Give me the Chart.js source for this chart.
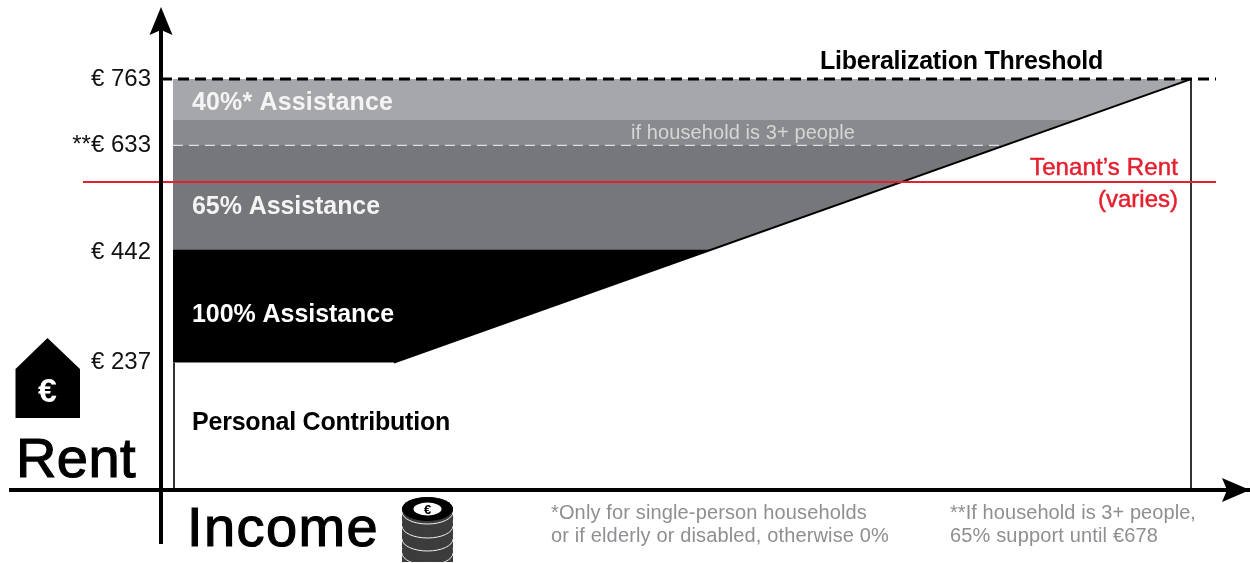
<!DOCTYPE html>
<html>
<head>
  <meta charset="UTF-8">
  <title>Rent Assistance</title>
  <script src="https://cdn.jsdelivr.net/npm/chart.js"></script>
  <style>
    html, body { margin: 0; padding: 0; background: #fff; }
    canvas { display: block; }
  </style>
</head>
<body>
  <canvas id="rentChart" width="1250" height="563"></canvas>
  <script>
    // rent in euro, income has no printed unit so it just runs from the rent axis
    const rentTicks = [237, 442, 640, 763];
    const rentTickLabels = ['€ 237', '€ 442', '**€ 633', '€ 763'];

    const bandIncome = [12, 1030];
    const band40Rent = [763, 763];
    const band65Extra = [687, 687];
    const band65Rent = [640, 640];
    const band100Rent = [446, 446];

    const contributionIncome = [12, 233, 1030];
    const contributionRent = [237, 237, 763];
    const slopeIncome = [233, 1030];
    const slopeRent = [237, 763];

    const tenantIncome = [-78, 1055];
    const tenantRent = [572, 572];
    const thresholdIncome = [0, 1055];
    const thresholdRent = [763, 763];
    const extraDashIncome = [12, 846];
    const extraDashRent = [640, 640];

    const leftEdgeIncome = [13, 13];
    const leftEdgeRent = [0, 237];
    const rightEdgeIncome = [1030, 1030];
    const rightEdgeRent = [0, 763];
    const rentAxisIncome = [0, 0];
    const rentAxisRent = [-100, 865];

    const zip = (xs, ys) => xs.map((x, i) => ({ x: x, y: ys[i] }));

    function band(xs, ys, color) {
      return {
        data: zip(xs, ys), showLine: true, pointRadius: 0, borderWidth: 0,
        backgroundColor: color, fill: { value: 0 }
      };
    }
    function line(xs, ys, color, width, dash) {
      return {
        data: zip(xs, ys), showLine: true, pointRadius: 0,
        borderColor: color, borderWidth: width, borderDash: dash || [], fill: false
      };
    }

    // painted back to front, the white contribution shape cuts the bands along the slope
    const layers = [
      band(bandIncome, band40Rent, '#a6a7ab'),
      band(bandIncome, band65Extra, '#898a8e'),
      band(bandIncome, band65Rent, '#76777b'),
      band(bandIncome, band100Rent, '#000000'),
      band(contributionIncome, contributionRent, '#ffffff'),
      line(extraDashIncome, extraDashRent, '#dfdfe1', 1.2, [10, 6]),
      line(leftEdgeIncome, leftEdgeRent, '#333333', 2),
      line(rightEdgeIncome, rightEdgeRent, '#333333', 2),
      line(slopeIncome, slopeRent, '#000000', 2),
      line(thresholdIncome, thresholdRent, '#000000', 3, [11, 6]),
      line(tenantIncome, tenantRent, '#e4202f', 2),
      line(rentAxisIncome, rentAxisRent, '#000000', 4)
    ];
    layers.forEach((d, i) => { d.order = layers.length - i; });

    // text, x, baseline, font, colour, align, width to fit, extra stroke
    const texts = [
      ['Liberalization Threshold', 820, 69, '700 25px "Liberation Sans"', '#000000', 'left', 283, 0],
      ['Personal Contribution', 192, 430, '700 25px "Liberation Sans"', '#000000', 'left', 258, 0],
      ['40%* Assistance', 192, 110, '700 25px "Liberation Sans"', '#f4f4f5', 'left', 201, 0],
      ['65% Assistance', 192, 214, '700 25px "Liberation Sans"', '#f4f4f5', 'left', 188, 0],
      ['100% Assistance', 192, 322, '700 25px "Liberation Sans"', '#ffffff', 'left', 202, 0],
      ['if household is 3+ people', 631, 139, '20px "Liberation Sans"', '#d6d6d9', 'left', 224, 0],
      ['Tenant’s Rent', 1178, 175, '24px "Liberation Sans"', '#e4202f', 'right', 148, 0.5],
      ['(varies)', 1178, 207, '24px "Liberation Sans"', '#e4202f', 'right', 80, 0.5],
      ['Rent', 16, 477, '56px "Liberation Sans"', '#000000', 'left', 120, 1.2],
      ['Income', 187, 546, '56px "Liberation Sans"', '#000000', 'left', 192, 1.2],
      ['*Only for single-person households', 551, 519, '20px "Liberation Sans"', '#8e8f92', 'left', 316, 0],
      ['or if elderly or disabled, otherwise 0%', 551, 542, '20px "Liberation Sans"', '#8e8f92', 'left', 338, 0],
      ['**If household is 3+ people,', 950, 519, '20px "Liberation Sans"', '#8e8f92', 'left', 246, 0],
      ['65% support until €678', 950, 542, '20px "Liberation Sans"', '#8e8f92', 'left', 208, 0]
    ];

    function poly(ctx, pts, color) {
      ctx.beginPath();
      pts.forEach((p, i) => i ? ctx.lineTo(p[0], p[1]) : ctx.moveTo(p[0], p[1]));
      ctx.closePath();
      ctx.fillStyle = color;
      ctx.fill();
    }

    function drawCoins(ctx) {
      const cx = 427.5, rx = 25.5, ry = 12;
      [550, 536, 523, 509].forEach(y => {
        ctx.beginPath();
        ctx.rect(cx - rx, y, rx * 2, 12);
        ctx.fillStyle = '#3c3c3c';
        ctx.fill();
        ctx.beginPath();
        ctx.ellipse(cx, y, rx, ry, 0, 0, Math.PI * 2);
        ctx.fillStyle = '#3c3c3c';
        ctx.fill();
        ctx.beginPath();
        ctx.ellipse(cx, y + 3, rx, ry, 0, 0, Math.PI);
        ctx.strokeStyle = '#f0f0f0';
        ctx.lineWidth = 1;
        ctx.stroke();
      });
      ctx.beginPath();
      ctx.ellipse(cx, 509, rx, ry, 0, 0, Math.PI * 2);
      ctx.fillStyle = '#000000';
      ctx.fill();
      ctx.beginPath();
      ctx.ellipse(cx, 509, 14, 6.5, 0, 0, Math.PI * 2);
      ctx.fillStyle = '#ffffff';
      ctx.fill();
      ctx.fillStyle = '#000000';
      ctx.font = '700 13px "Liberation Sans"';
      ctx.textAlign = 'center';
      ctx.fillText('€', cx, 514);
    }

    const decorations = {
      id: 'decorations',
      afterDraw(chart) {
        const ctx = chart.ctx;
        ctx.save();
        // axis arrowheads
        poly(ctx, [[161, 7], [172.5, 35], [161, 30], [149.5, 35]], '#000000');
        poly(ctx, [[1250, 490], [1222, 502], [1227, 490], [1222, 478]], '#000000');
        // house icon
        poly(ctx, [[47.5, 338], [80, 369], [80, 418], [15.5, 418], [15.5, 369]], '#000000');
        ctx.fillStyle = '#ffffff';
        ctx.font = '700 34px "Liberation Sans"';
        ctx.textAlign = 'center';
        ctx.fillText('€', 47.5, 402);
        drawCoins(ctx);
        ctx.textBaseline = 'alphabetic';
        texts.forEach(t => {
          ctx.font = t[3];
          ctx.letterSpacing = '0px';
          const spare = t[6] - ctx.measureText(t[0]).width;
          ctx.letterSpacing = (spare / t[0].length) + 'px';
          ctx.fillStyle = t[4];
          ctx.textAlign = t[5];
          ctx.fillText(t[0], t[1], t[2]);
          if (t[7]) {
            ctx.strokeStyle = t[4];
            ctx.lineWidth = t[7];
            ctx.strokeText(t[0], t[1], t[2]);
          }
        });
        ctx.restore();
      }
    };

    new Chart(document.getElementById('rentChart').getContext('2d'), {
      type: 'scatter',
      data: { datasets: layers },
      plugins: [decorations],
      options: {
        responsive: false,
        animation: false,
        layout: { padding: { left: 11, right: 0, top: 8, bottom: 19 } },
        plugins: { legend: { display: false }, tooltip: { enabled: false } },
        scales: {
          x: {
            type: 'linear', min: -150, max: 1089,
            position: { y: 0 },
            grid: { display: false, drawTicks: false },
            border: { display: true, color: '#000000', width: 4, z: 1 },
            ticks: { display: false }
          },
          y: {
            type: 'linear', min: -100, max: 895,
            position: { x: -10 },
            grid: { display: false, drawTicks: false },
            border: { display: false },
            afterBuildTicks: axis => { axis.ticks = rentTicks.map(v => ({ value: v })); },
            afterFit: axis => { axis.paddingTop = 0; axis.paddingBottom = 0; },
            ticks: {
              color: '#111111', autoSkip: false,
              font: { family: '"Liberation Sans"', size: 24 },
              callback: v => rentTickLabels[rentTicks.indexOf(v)]
            }
          }
        }
      }
    });
  </script>
</body>
</html>
